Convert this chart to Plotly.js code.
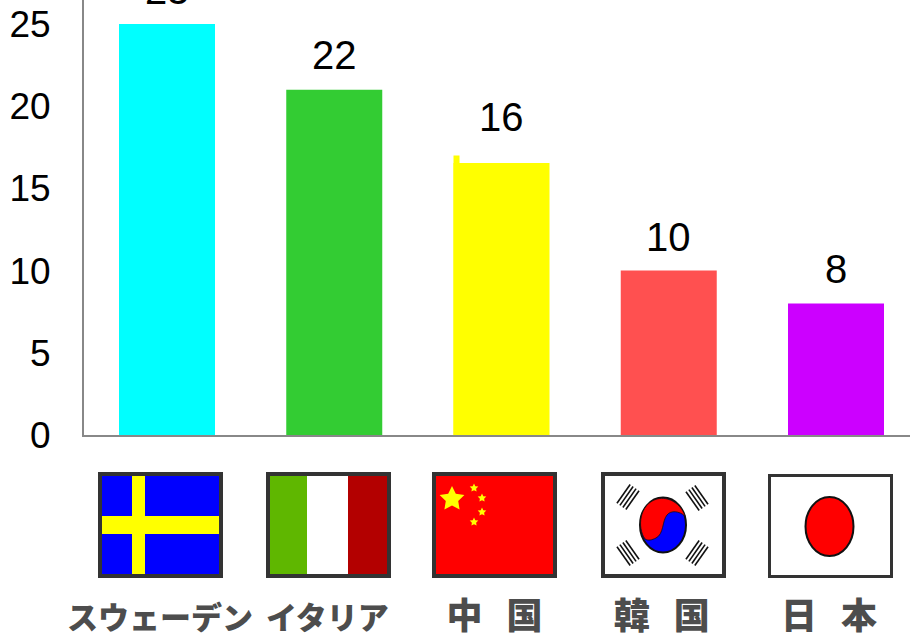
<!DOCTYPE html>
<html>
<head>
<meta charset="utf-8">
<script src="https://cdn.plot.ly/plotly-3.0.1.min.js"></script>
<style>html,body{margin:0;padding:0;background:#fff;overflow:hidden}</style>
</head>
<body>
<div id="chart" style="width:910px;height:639px"></div>
<script>
const kanji = s => `<span style="font-size:36px">${s}</span>`;
const countries = ['スウェーデン', 'イタリア', kanji('中\u2002\u2006国'), kanji('韓\u2002\u2006国'), kanji('日\u2002\u2006本')];
const barValues = [25, 21, 16.55, 10, 8];
const valueLabels = ['25', '22', '16', '10', '8'];
const labelGaps = [34, 35, 46, 34, 34];
const barColors = ['#00ffff', '#33cc33', '#ffff00', '#ff5050', '#cc00ff'];
const chinaNotchValue = [17];
const yTicks = [0, 5, 10, 15, 20, 25];

const positions = countries.map((_, i) => i);

function star(cx, cy, r, fill) {
  let p = [];
  for (let i = 0; i < 10; i++) {
    const a = -Math.PI / 2 + i * Math.PI / 5, q = i % 2 ? r * 0.5 : r;
    p.push((cx + q * Math.cos(a)).toFixed(1) + ',' + (cy + q * Math.sin(a)).toFixed(1));
  }
  return `<polygon points="${p.join(' ')}" fill="${fill}"/>`;
}
function trigram(cx, cy, deg) {
  let s = `<g transform="translate(${cx} ${cy}) rotate(${deg})" stroke="#111" stroke-width="1.6">`;
  [-5.4, -1.8, 1.8, 5.4].forEach(o => { s += `<line x1="${o}" y1="-11.5" x2="${o}" y2="11.5"/>`; });
  return s + '</g>';
}
const frame = '<rect x="2" y="2" width="121" height="102" fill="none" stroke="#333" stroke-width="4"/>';
const flagSvgs = [
  '<rect width="125" height="106" fill="#0000ff"/><rect x="34" y="0" width="13" height="106" fill="#ffff00"/><rect x="0" y="44" width="125" height="18" fill="#ffff00"/>' + frame,
  '<rect width="125" height="106" fill="#fff"/><rect x="2" width="39" height="106" fill="#5fb700"/><rect x="82" width="41" height="106" fill="#b30000"/>' + frame,
  '<rect width="125" height="106" fill="#ff0000"/>' + star(20, 27, 13, '#ffff00') + star(42, 16, 4.5, '#ffff00') + star(50, 26, 4.5, '#ffff00') + star(50, 40, 4.5, '#ffff00') + star(42, 50, 4.5, '#ffff00') + frame,
  '<rect width="125" height="106" fill="#fff"/>' +
    '<ellipse cx="62" cy="53" rx="23" ry="27.5" fill="#0000ff" stroke="#111" stroke-width="2"/>' +
    '<path d="M44 67 C36 56 38 32 56 27 C68 24 80 32 84 44 C78 39 70 38 66 43 C61 49 63 62 55 66 C51 68 47 69 44 67 Z" fill="#ff0000" stroke="#111" stroke-width="0.8"/>' +
    trigram(27, 25, 35) + trigram(96, 26, -35) + trigram(27, 81, -35) + trigram(96, 81, 35) + frame,
  '<rect y="2" width="125" height="104" fill="#fff"/><ellipse cx="61.5" cy="54.5" rx="24" ry="29.5" fill="#ff0000" stroke="#111" stroke-width="2"/>' +
    '<rect x="1.5" y="3.5" width="122" height="101" fill="none" stroke="#333" stroke-width="3"/>'
];
const flagLefts = [98, 266, 432, 601, 768];
const PLOT_W = 826, PLOT_H = 435, PX_PER_CAT = 167.25;
const PX_PER_UNIT = (PLOT_H - 24) / 25;

const images = flagSvgs.map((svg, i) => ({
  source: 'data:image/svg+xml;charset=utf-8,' + encodeURIComponent(
    `<svg xmlns="http://www.w3.org/2000/svg" width="125" height="106" viewBox="0 0 125 106" preserveAspectRatio="none">${svg}</svg>`),
  xref: 'paper', yref: 'paper',
  x: (flagLefts[i] - 84) / PLOT_W, y: (PLOT_H - 472) / PLOT_H,
  sizex: 125 / PLOT_W, sizey: 106 / PLOT_H,
  xanchor: 'left', yanchor: 'top', sizing: 'stretch', layer: 'above'
}));

const annotations = valueLabels.map((t, i) => ({
  x: positions[i], y: barValues[i], xref: 'x', yref: 'y',
  text: t, showarrow: false, yshift: labelGaps[i], yanchor: 'middle', xanchor: 'center',
  font: { family: 'Liberation Sans, Arial, sans-serif', size: 40, color: '#000' }
}));

const data = [
  { type: 'bar', x: positions, y: barValues, width: 0.574, marker: { color: barColors, line: { width: 0 } }, hoverinfo: 'none', showlegend: false },
  { type: 'bar', x: [positions[2]], y: chinaNotchValue, width: 0.036, offset: -0.287, marker: { color: barColors[2], line: { width: 0 } }, hoverinfo: 'none', showlegend: false }
];

const xStart = -(167 - 84) / PX_PER_CAT;
const layout = {
  width: 910, height: 639,
  margin: { l: 84, r: 0, t: 0, b: 204, pad: 0 },
  paper_bgcolor: '#fff', plot_bgcolor: '#fff',
  barmode: 'overlay', showlegend: false,
  xaxis: {
    range: [xStart, xStart + PLOT_W / PX_PER_CAT], tickmode: 'array', tickvals: positions, ticktext: countries,
    ticks: '', showgrid: false, zeroline: false, showline: true, linecolor: '#888888', linewidth: 2,
    ticklabelstandoff: 155, ticklabelshift: -7, tickangle: 0,
    tickfont: { family: '"Noto Sans CJK JP", sans-serif', size: 31, weight: 900, color: '#4d4d4d' }
  },
  yaxis: {
    range: [0, PLOT_H / PX_PER_UNIT], tickmode: 'array', tickvals: yTicks, ticktext: yTicks.map(String),
    ticks: '', showgrid: false, zeroline: false, showline: true, linecolor: '#888888', linewidth: 2,
    ticklabelstandoff: 24,
    tickfont: { family: 'Liberation Sans, Arial, sans-serif', size: 37, color: '#000' }
  },
  images, annotations
};
Plotly.newPlot('chart', data, layout, { displayModeBar: false, staticPlot: true });
</script>
</body>
</html>
